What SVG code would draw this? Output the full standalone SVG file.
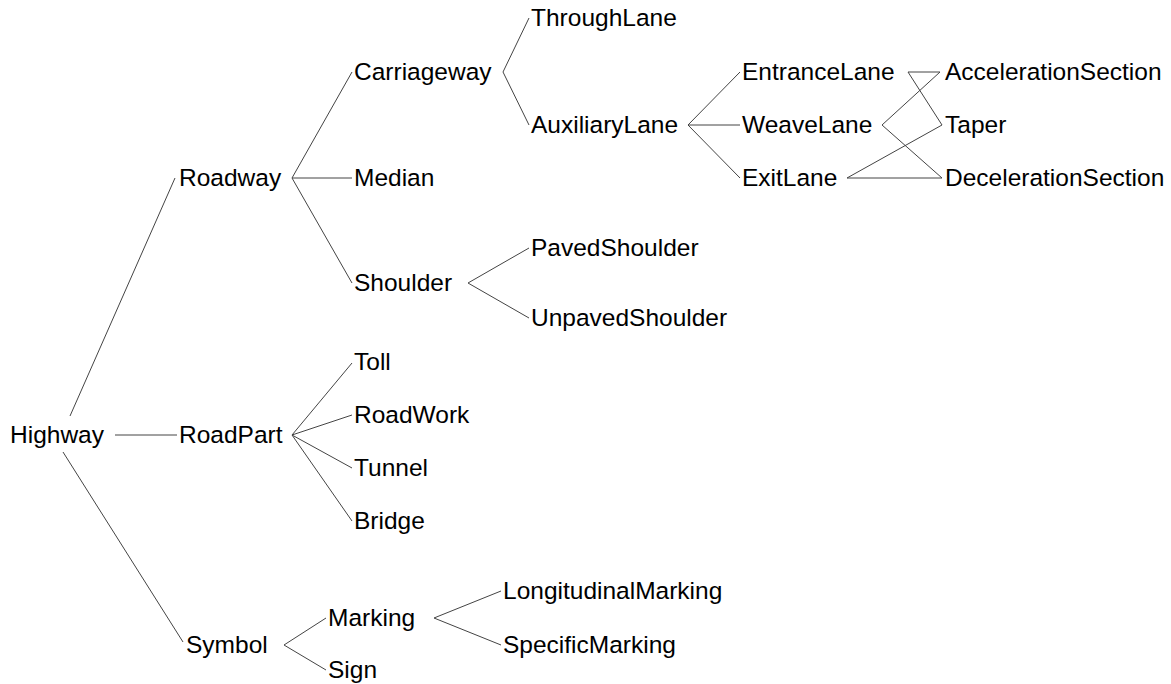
<svg xmlns="http://www.w3.org/2000/svg" width="1171" height="684" viewBox="0 0 1171 684">
<style>
text{font-family:"Liberation Sans",Arial,sans-serif;font-size:24.5px;fill:#000}
line{stroke:#444;stroke-width:1;fill:none}
</style>
<rect width="1171" height="684" fill="#fff"/>
<g id="connectors">
<line x1="70" y1="416" x2="175" y2="178"/>
<line x1="115" y1="435" x2="177" y2="435"/>
<line x1="63" y1="452" x2="183" y2="642"/>
<line x1="292" y1="178" x2="352" y2="72"/>
<line x1="292" y1="178" x2="352" y2="178"/>
<line x1="292" y1="178" x2="352" y2="283"/>
<line x1="503" y1="72" x2="529" y2="18"/>
<line x1="503" y1="72" x2="529" y2="125"/>
<line x1="468" y1="283" x2="529" y2="248"/>
<line x1="468" y1="283" x2="529" y2="318"/>
<line x1="688" y1="125" x2="740" y2="72"/>
<line x1="688" y1="125" x2="740" y2="125"/>
<line x1="688" y1="125" x2="740" y2="178"/>
<line x1="908" y1="72" x2="940" y2="72"/>
<line x1="908" y1="72" x2="942" y2="125"/>
<line x1="882" y1="125" x2="940" y2="72"/>
<line x1="882" y1="125" x2="942" y2="178"/>
<line x1="847" y1="178" x2="942" y2="125"/>
<line x1="847" y1="178" x2="942" y2="178"/>
<line x1="292" y1="435" x2="352" y2="363"/>
<line x1="292" y1="435" x2="352" y2="415"/>
<line x1="292" y1="435" x2="352" y2="468"/>
<line x1="292" y1="435" x2="352" y2="521"/>
<line x1="284" y1="645" x2="326" y2="618"/>
<line x1="284" y1="645" x2="326" y2="670"/>
<line x1="434" y1="618" x2="501" y2="591"/>
<line x1="434" y1="618" x2="501" y2="645"/>
</g>
<g id="Highway"><text x="10" y="443">Highway</text></g>
<g id="Roadway"><text x="179" y="186">Roadway</text></g>
<g id="RoadPart"><text x="179" y="443">RoadPart</text></g>
<g id="Symbol"><text x="186" y="653">Symbol</text></g>
<g id="Carriageway"><text x="354" y="80">Carriageway</text></g>
<g id="Median"><text x="354" y="186">Median</text></g>
<g id="Shoulder"><text x="354" y="291">Shoulder</text></g>
<g id="ThroughLane"><text x="531" y="26">ThroughLane</text></g>
<g id="AuxiliaryLane"><text x="531" y="133">AuxiliaryLane</text></g>
<g id="PavedShoulder"><text x="531" y="256">PavedShoulder</text></g>
<g id="UnpavedShoulder"><text x="531" y="326">UnpavedShoulder</text></g>
<g id="EntranceLane"><text x="742" y="80">EntranceLane</text></g>
<g id="WeaveLane"><text x="742" y="133">WeaveLane</text></g>
<g id="ExitLane"><text x="742" y="186">ExitLane</text></g>
<g id="AccelerationSection"><text x="945" y="80">AccelerationSection</text></g>
<g id="Taper"><text x="945" y="133">Taper</text></g>
<g id="DecelerationSection"><text x="945" y="186">DecelerationSection</text></g>
<g id="Toll"><text x="354" y="370">Toll</text></g>
<g id="RoadWork"><text x="354" y="423">RoadWork</text></g>
<g id="Tunnel"><text x="354" y="476">Tunnel</text></g>
<g id="Bridge"><text x="354" y="529">Bridge</text></g>
<g id="Marking"><text x="328" y="626">Marking</text></g>
<g id="Sign"><text x="328" y="678">Sign</text></g>
<g id="LongitudinalMarking"><text x="503" y="599">LongitudinalMarking</text></g>
<g id="SpecificMarking"><text x="503" y="653">SpecificMarking</text></g>
</svg>
